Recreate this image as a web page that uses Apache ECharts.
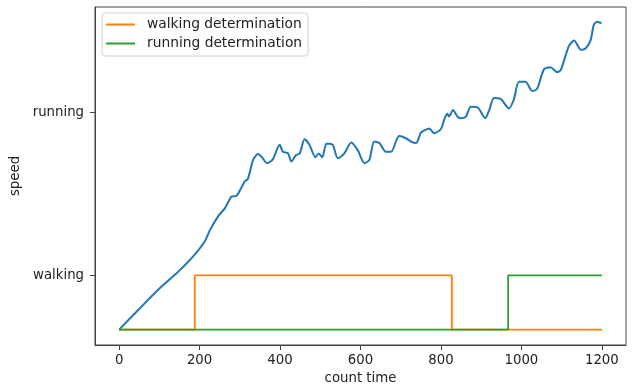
<!DOCTYPE html>
<html>
<head>
<meta charset="utf-8">
<script src="https://cdn.jsdelivr.net/npm/echarts@6/dist/echarts.min.js"></script>
<style>html,body{margin:0;padding:0;background:#fff}#c{width:633px;height:390px}</style>
</head>
<body>
<div id="c"></div>
<script>
// speed curve (count time, speed level)
const speedX = [0,64,106,147,184,213,226,246,263,279,292,312,320,333,345,354,368,382,399,407,420,428,440,449,461,473,488,496,505,515,523,531,544,560,577,593,610,622,634,647,663,676,696,713,725,738,750,758,771,783,800,808,816,820,830,841,849,862,874,891,910,920,932,949,969,981,994,1010,1027,1039,1056,1072,1089,1098,1118,1131,1148,1160,1172,1180,1188,1199];
const speedY = [0,0.49,0.80,1.07,1.35,1.63,1.84,2.09,2.24,2.45,2.47,2.73,2.78,3.13,3.24,3.19,3.07,3.14,3.41,3.28,3.25,3.10,3.22,3.25,3.51,3.41,3.18,3.25,3.18,3.43,3.43,3.41,3.16,3.25,3.45,3.31,3.07,3.13,3.47,3.44,3.28,3.28,3.57,3.53,3.47,3.44,3.63,3.67,3.71,3.62,3.70,3.87,3.98,3.93,4.05,3.93,3.90,3.93,4.11,4.10,3.90,4.05,4.27,4.25,4.08,4.24,4.57,4.57,4.40,4.44,4.80,4.84,4.75,4.79,5.23,5.33,5.16,5.19,5.34,5.62,5.68,5.65];
// step series
const walkX = [0,188,188,827,827,1200];
const walkY = [0,0,1,1,0,0];
const runX = [0,967,967,1200];
const runY = [0,0,1,1];
const xTicks = [0,200,400,600,800,1000,1200];
const yTickValues = [1,4];
const yTickLabels = ['walking','running'];
const seriesNames = ['walking determination','running determination'];

const pairs = (xs, ys) => xs.map((x, i) => [x, ys[i]]);
const font = 'DejaVu Sans';
const chart = echarts.init(document.getElementById('c'), null, {renderer: 'canvas'});
chart.setOption({
  animation: false,
  backgroundColor: '#fff',
  textStyle: {fontFamily: font},
  grid: {left: 95, top: 7, right: 7, bottom: 45, show: true, borderColor: '#444', borderWidth: 1, backgroundColor: 'transparent'},
  legend: {
    orient: 'vertical', left: 102, top: 13,
    data: seriesNames,
    icon: 'rect', itemWidth: 29, itemHeight: 2, itemGap: 4,
    padding: [4, 6, 5, 4],
    backgroundColor: '#fff', borderColor: '#d0d0d0', borderWidth: 1, borderRadius: 3,
    textStyle: {fontFamily: font, fontSize: 13.8, color: '#222', lineHeight: 15, padding: [0, 0, 0, 7]}
  },
  xAxis: {
    type: 'value', min: -60, max: 1260,
    name: 'count time', nameLocation: 'middle', nameGap: 27,
    nameTextStyle: {fontFamily: font, fontSize: 13.3, color: '#222'},
    axisLine: {show: true, onZero: false, lineStyle: {color: '#444'}},
    axisTick: {show: true, length: 5, lineStyle: {color: '#444'}, customValues: xTicks},
    axisLabel: {fontFamily: font, fontSize: 13.3, color: '#222', margin: 9, customValues: xTicks,
      formatter: v => String(v)},
    splitLine: {show: false}
  },
  yAxis: {
    type: 'value', min: -0.283, max: 5.95,
    name: 'speed', nameLocation: 'middle', nameGap: 67,
    nameTextStyle: {fontFamily: font, fontSize: 13.3, color: '#222'},
    axisLine: {show: true, onZero: false, lineStyle: {color: '#444'}},
    axisTick: {show: true, length: 5, lineStyle: {color: '#444'}, customValues: yTickValues},
    axisLabel: {fontFamily: font, fontSize: 13.3, color: '#222', margin: 11, customValues: yTickValues,
      formatter: v => { const i = yTickValues.indexOf(v); return i >= 0 ? yTickLabels[i] : ''; }},
    splitLine: {show: false}
  },
  series: [
    {type: 'line', name: 'speed', data: pairs(speedX, speedY), showSymbol: false, smooth: 0.25,
      lineStyle: {color: '#1f77b4', width: 2}, itemStyle: {color: '#1f77b4'}},
    {type: 'line', name: seriesNames[0], data: pairs(walkX, walkY), showSymbol: false,
      lineStyle: {color: '#ff7f0e', width: 1.8}, itemStyle: {color: '#ff7f0e'}},
    {type: 'line', name: seriesNames[1], data: pairs(runX, runY), showSymbol: false,
      lineStyle: {color: '#2ca02c', width: 1.8}, itemStyle: {color: '#2ca02c'}}
  ]
});
</script>
</body>
</html>
